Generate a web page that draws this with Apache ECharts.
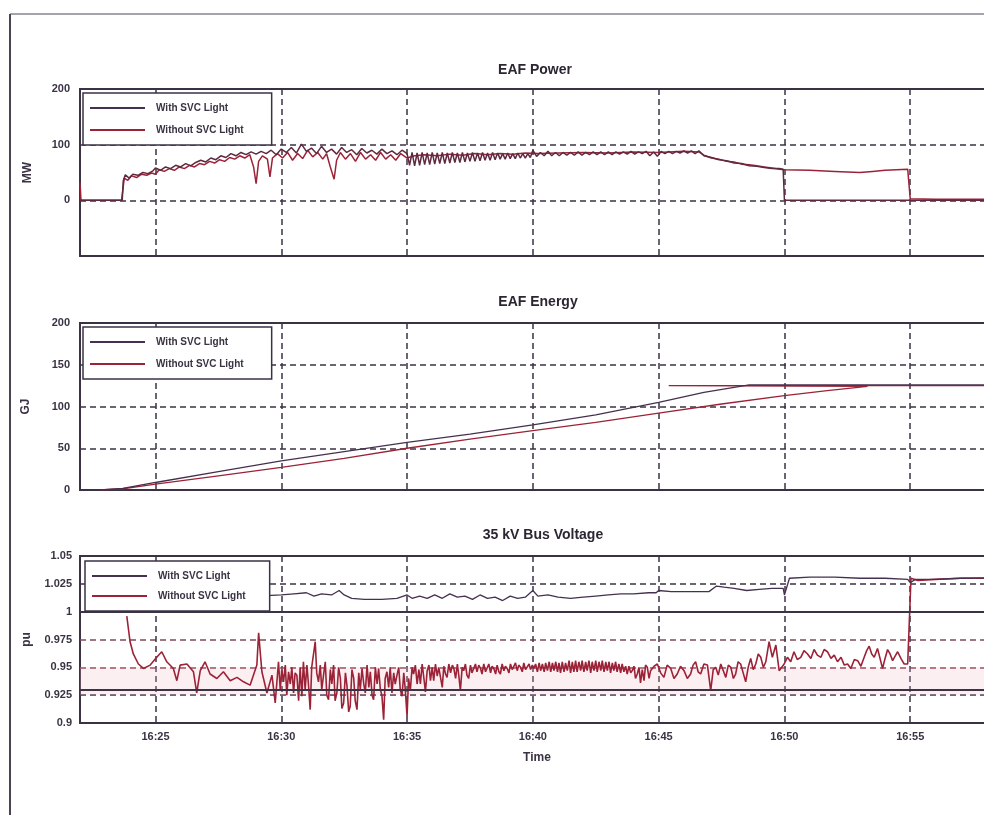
<!DOCTYPE html>
<html>
<head>
<meta charset="utf-8">
<script src="https://cdn.jsdelivr.net/npm/echarts/dist/echarts.min.js"></script>
<style>
  html, body { margin: 0; padding: 0; background: #fff; }
  #chart { width: 984px; height: 815px; }
</style>
</head>
<body>
<div id="chart"></div>
<script>
// Time axis is in minutes after 16:00.
const timeTicks = [25, 30, 35, 40, 45, 50, 55, 60];
const timeLabels = [25, 30, 35, 40, 45, 50, 55];

// EAF power, MW
const powerWith = [
  [22.0, 0], [23.68, 0], [23.72, 35], [23.8, 46], [23.95, 40], [24.1, 47], [24.3, 45], [24.5, 50], [24.7, 48], [24.9, 53],
  [25.0, 58], [25.2, 54], [25.4, 60], [25.6, 57], [25.8, 63], [26.0, 60], [26.2, 66], [26.4, 62], [26.6, 68], [26.8, 72],
  [27.0, 69], [27.2, 76], [27.4, 73], [27.6, 80], [27.8, 77], [28.0, 84], [28.2, 80], [28.4, 86], [28.6, 82], [28.8, 87],
  [29.0, 83], [29.2, 88], [29.4, 84], [29.6, 90], [29.8, 82], [30.0, 92], [30.2, 86], [30.4, 95], [30.6, 85], [30.8, 101],
  [31.0, 88], [31.2, 94], [31.4, 84], [31.6, 97], [31.8, 86], [32.0, 92], [32.2, 83], [32.4, 95], [32.6, 86], [32.8, 91],
  [33.0, 82], [33.2, 93], [33.4, 85], [33.6, 90], [33.8, 83], [34.0, 92], [34.2, 84], [34.4, 89], [34.6, 82], [34.8, 90],
  [35.0, 84], [35.1, 63], [35.2, 86], [35.3, 62], [35.4, 85], [35.5, 63], [35.6, 86], [35.7, 64], [35.8, 85], [35.9, 64],
  [36.0, 86], [36.1, 65], [36.2, 85], [36.3, 66], [36.4, 86], [36.5, 66], [36.6, 85], [36.7, 67], [36.8, 86], [36.9, 68],
  [37.0, 85], [37.1, 68], [37.2, 86], [37.3, 69], [37.4, 85], [37.5, 70], [37.6, 86], [37.7, 70], [37.8, 85], [37.9, 71],
  [38.0, 86], [38.1, 72], [38.2, 85], [38.3, 72], [38.4, 86], [38.5, 73], [38.6, 85], [38.7, 74], [38.8, 84], [38.9, 74],
  [39.0, 85], [39.1, 75], [39.2, 84], [39.3, 75], [39.4, 85], [39.5, 76], [39.6, 84], [39.7, 76], [39.8, 84], [39.9, 77],
  [40.0, 90], [40.15, 79], [40.3, 86], [40.45, 80], [40.6, 88], [40.75, 80], [40.9, 86], [41.05, 80], [41.2, 86], [41.35, 81],
  [41.5, 86], [41.65, 81], [41.8, 87], [41.95, 81], [42.1, 86], [42.25, 82], [42.4, 87], [42.55, 82], [42.7, 87], [42.85, 82],
  [43.0, 87], [43.15, 82], [43.3, 87], [43.45, 83], [43.6, 87], [43.75, 83], [43.9, 88], [44.05, 83], [44.2, 87], [44.35, 84],
  [44.5, 88], [44.65, 80], [44.8, 87], [44.95, 79], [45.1, 88], [45.25, 84], [45.4, 88], [45.55, 84], [45.7, 88], [45.85, 85],
  [46.0, 89], [46.15, 85], [46.3, 89], [46.45, 84], [46.6, 89], [46.8, 80], [47.1, 77], [47.4, 73], [47.7, 71], [48.0, 67],
  [48.3, 66], [48.6, 62], [48.9, 61], [49.2, 59], [49.5, 57], [49.8, 57], [49.95, 56], [50.0, 0], [60.0, 0]
];
const powerWithout = [
  [22.0, 32], [22.04, 0], [23.65, 0], [23.7, 18], [23.76, 40], [23.9, 36], [24.05, 44], [24.25, 41], [24.45, 47], [24.65, 45],
  [24.85, 49], [25.0, 47], [25.15, 55], [25.35, 52], [25.55, 57], [25.75, 54], [25.95, 60], [26.15, 57], [26.35, 63], [26.55, 60],
  [26.75, 66], [26.95, 64], [27.15, 70], [27.35, 67], [27.55, 73], [27.75, 70], [27.95, 77], [28.15, 74], [28.35, 80], [28.55, 76],
  [28.75, 82], [28.9, 60], [29.0, 30], [29.1, 70], [29.25, 80], [29.45, 74], [29.55, 42], [29.65, 76], [29.85, 84], [30.05, 76],
  [30.25, 86], [30.45, 72], [30.65, 84], [30.85, 75], [31.05, 90], [31.25, 78], [31.45, 86], [31.65, 74], [31.8, 84], [31.95, 60],
  [32.1, 38], [32.2, 72], [32.35, 86], [32.55, 74], [32.75, 84], [32.95, 70], [33.15, 86], [33.35, 74], [33.55, 82], [33.75, 72],
  [33.95, 86], [34.15, 74], [34.35, 82], [34.55, 72], [34.75, 84], [35.0, 76], [35.3, 80], [35.7, 82], [36.2, 80], [36.7, 83],
  [37.2, 81], [37.7, 84], [38.2, 82], [38.7, 84], [39.2, 83], [39.7, 85], [40.2, 84], [41.0, 85], [42.0, 86], [43.0, 85],
  [44.0, 87], [45.0, 86], [46.0, 88], [46.6, 87], [46.8, 81], [47.1, 76], [47.4, 74], [47.7, 70], [48.0, 69], [48.3, 65],
  [48.6, 64], [48.9, 62], [49.2, 60], [49.5, 58], [49.8, 56], [50.0, 55], [51.0, 54], [52.0, 52], [53.0, 50], [53.5, 52],
  [54.0, 54], [54.9, 56], [55.0, 3], [56.0, 2], [57.0, 2], [60.0, 2]
];

// EAF energy, GJ
const energyWith = [
  [22.8, 0], [23.7, 2], [25.0, 9], [27.5, 22], [30.0, 35], [32.5, 46], [35.0, 57], [37.5, 67], [40.0, 78], [42.5, 90],
  [45.0, 105], [46.8, 117], [48.6, 126], [60.0, 126]
];
const energyWithout = [
  [22.8, 0], [23.7, 1.5], [25.0, 7], [27.5, 17], [30.0, 27], [32.5, 38], [35.0, 50], [37.5, 61], [40.0, 71], [42.5, 81],
  [45.0, 92], [47.5, 103], [50.0, 113], [51.7, 119], [53.3, 124], [45.4, 125], [60.0, 125]
];

// 35 kV bus voltage, pu
const voltageWith = [
  [23.7, 1.015], [25.0, 1.014], [27.0, 1.015], [29.0, 1.014], [30.0, 1.015], [30.5, 1.016], [31.0, 1.017], [31.3, 1.014],
  [31.6, 1.016], [32.0, 1.015], [32.3, 1.019], [32.5, 1.015], [32.8, 1.012], [33.3, 1.011], [34.0, 1.011], [34.6, 1.012],
  [35.0, 1.015], [35.2, 1.012], [35.5, 1.014], [35.8, 1.012], [36.1, 1.015], [36.4, 1.012], [36.7, 1.016], [37.0, 1.013],
  [37.3, 1.014], [37.6, 1.011], [37.9, 1.015], [38.2, 1.012], [38.5, 1.013], [38.8, 1.010], [39.1, 1.014], [39.4, 1.012],
  [39.7, 1.013], [40.0, 1.019], [40.2, 1.014], [40.6, 1.015], [41.0, 1.013], [41.5, 1.012], [42.0, 1.013], [42.5, 1.014],
  [43.0, 1.015], [43.5, 1.016], [44.0, 1.016], [44.6, 1.017], [44.9, 1.017], [45.0, 1.019], [45.5, 1.018], [46.0, 1.018],
  [46.5, 1.018], [47.0, 1.018], [47.3, 1.023], [47.6, 1.022], [48.0, 1.021], [48.5, 1.019], [49.0, 1.020], [49.5, 1.021],
  [49.95, 1.021], [50.0, 1.015], [50.2, 1.030], [51.0, 1.031], [52.0, 1.031], [53.0, 1.030], [54.0, 1.030], [54.9, 1.029],
  [55.0, 1.026], [55.2, 1.029], [56.0, 1.029], [57.0, 1.030], [60.0, 1.031]
];
const voltageWithout = [
  [23.86, 0.996], [23.99, 0.973], [24.12, 0.962], [24.32, 0.953], [24.52, 0.949], [24.79, 0.952], [25.05, 0.959], [25.25, 0.964],
  [25.45, 0.955], [25.71, 0.949], [25.85, 0.938], [25.98, 0.952], [26.25, 0.953], [26.51, 0.946], [26.64, 0.927], [26.78, 0.947],
  [26.97, 0.955], [27.17, 0.944], [27.44, 0.940], [27.70, 0.946], [27.97, 0.938], [28.24, 0.941], [28.50, 0.937], [28.76, 0.934],
  [29.03, 0.952], [29.10, 0.981], [29.23, 0.946], [29.43, 0.927], [29.63, 0.943], [29.76, 0.918], [29.89, 0.955], [29.96, 0.930],
  [30.02, 0.948], [30.09, 0.937], [30.16, 0.952], [30.22, 0.925], [30.29, 0.946], [30.36, 0.935], [30.42, 0.950], [30.49, 0.927],
  [30.55, 0.945], [30.62, 0.943], [30.69, 0.920], [30.75, 0.950], [30.82, 0.924], [30.88, 0.955], [30.95, 0.930], [31.02, 0.952],
  [31.08, 0.935], [31.15, 0.912], [31.21, 0.950], [31.28, 0.949], [31.35, 0.973], [31.41, 0.945], [31.48, 0.937], [31.55, 0.952],
  [31.61, 0.930], [31.68, 0.943], [31.75, 0.955], [31.81, 0.925], [31.88, 0.921], [31.95, 0.948], [32.01, 0.935], [32.08, 0.952],
  [32.14, 0.920], [32.21, 0.927], [32.28, 0.950], [32.35, 0.940], [32.41, 0.913], [32.48, 0.918], [32.55, 0.945], [32.61, 0.934],
  [32.68, 0.910], [32.74, 0.915], [32.81, 0.948], [32.88, 0.940], [32.94, 0.920], [33.01, 0.912], [33.08, 0.945], [33.14, 0.930],
  [33.21, 0.949], [33.28, 0.935], [33.34, 0.927], [33.41, 0.952], [33.48, 0.932], [33.54, 0.946], [33.61, 0.925], [33.67, 0.921],
  [33.74, 0.950], [33.81, 0.935], [33.87, 0.949], [33.94, 0.930], [34.00, 0.925], [34.07, 0.903], [34.13, 0.940], [34.20, 0.946],
  [34.27, 0.932], [34.33, 0.950], [34.40, 0.927], [34.47, 0.945], [34.53, 0.935], [34.60, 0.943], [34.67, 0.950], [34.73, 0.930],
  [34.80, 0.924], [34.87, 0.945], [34.93, 0.930], [35.00, 0.906], [35.06, 0.940], [35.13, 0.929], [35.20, 0.950], [35.26, 0.944],
  [35.33, 0.952], [35.40, 0.935], [35.47, 0.948], [35.53, 0.935], [35.60, 0.953], [35.67, 0.940], [35.73, 0.928], [35.80, 0.947],
  [35.87, 0.952], [35.93, 0.938], [36.00, 0.950], [36.06, 0.938], [36.13, 0.953], [36.20, 0.942], [36.26, 0.950], [36.33, 0.949],
  [36.40, 0.932], [36.46, 0.951], [36.53, 0.944], [36.59, 0.941], [36.66, 0.953], [36.73, 0.945], [36.80, 0.952], [36.86, 0.949],
  [36.93, 0.940], [37.00, 0.953], [37.06, 0.942], [37.12, 0.929], [37.19, 0.950], [37.25, 0.947], [37.32, 0.953], [37.38, 0.943],
  [37.45, 0.940], [37.52, 0.952], [37.58, 0.945], [37.65, 0.944], [37.72, 0.953], [37.78, 0.946], [37.85, 0.952], [37.92, 0.949],
  [37.98, 0.944], [38.05, 0.953], [38.12, 0.946], [38.18, 0.946], [38.25, 0.953], [38.32, 0.945], [38.38, 0.951], [38.45, 0.949],
  [38.52, 0.944], [38.58, 0.952], [38.65, 0.946], [38.71, 0.944], [38.78, 0.953], [38.85, 0.947], [38.91, 0.951], [38.98, 0.949],
  [39.05, 0.945], [39.11, 0.953], [39.18, 0.948], [39.24, 0.947], [39.31, 0.954], [39.38, 0.947], [39.44, 0.952], [39.51, 0.950],
  [39.58, 0.946], [39.64, 0.954], [39.71, 0.948], [39.78, 0.947], [39.85, 0.953], [39.91, 0.948], [39.98, 0.952], [40.04, 0.949],
  [40.11, 0.953], [40.18, 0.946], [40.25, 0.954], [40.31, 0.947], [40.38, 0.953], [40.45, 0.946], [40.51, 0.954], [40.58, 0.947],
  [40.65, 0.955], [40.71, 0.946], [40.78, 0.954], [40.84, 0.947], [40.91, 0.955], [40.98, 0.946], [41.04, 0.954], [41.10, 0.945],
  [41.17, 0.955], [41.24, 0.946], [41.30, 0.954], [41.37, 0.947], [41.44, 0.956], [41.50, 0.945], [41.57, 0.955], [41.63, 0.946],
  [41.70, 0.956], [41.76, 0.946], [41.83, 0.955], [41.90, 0.947], [41.96, 0.956], [42.03, 0.946], [42.10, 0.955], [42.16, 0.947],
  [42.23, 0.956], [42.30, 0.945], [42.36, 0.955], [42.43, 0.947], [42.50, 0.956], [42.56, 0.946], [42.63, 0.955], [42.70, 0.947],
  [42.76, 0.956], [42.83, 0.946], [42.90, 0.955], [42.96, 0.947], [43.03, 0.955], [43.09, 0.945], [43.16, 0.954], [43.22, 0.947],
  [43.29, 0.955], [43.35, 0.946], [43.42, 0.953], [43.49, 0.945], [43.55, 0.953], [43.62, 0.946], [43.69, 0.951], [43.75, 0.944],
  [43.82, 0.951], [43.89, 0.945], [43.95, 0.947], [44.02, 0.951], [44.08, 0.940], [44.15, 0.944], [44.22, 0.950], [44.28, 0.936],
  [44.35, 0.948], [44.42, 0.938], [44.48, 0.952], [44.55, 0.950], [44.62, 0.940], [44.68, 0.947], [44.82, 0.951], [44.95, 0.953],
  [45.08, 0.945], [45.21, 0.941], [45.34, 0.952], [45.48, 0.949], [45.61, 0.940], [45.74, 0.944], [45.87, 0.951], [46.01, 0.947],
  [46.14, 0.940], [46.27, 0.944], [46.37, 0.952], [46.47, 0.955], [46.57, 0.946], [46.67, 0.944], [46.80, 0.953], [46.94, 0.952],
  [47.07, 0.929], [47.17, 0.948], [47.27, 0.950], [47.37, 0.943], [47.47, 0.953], [47.57, 0.947], [47.67, 0.941], [47.77, 0.952],
  [47.87, 0.950], [47.97, 0.940], [48.06, 0.944], [48.16, 0.955], [48.26, 0.953], [48.36, 0.945], [48.46, 0.937], [48.56, 0.950],
  [48.66, 0.958], [48.76, 0.948], [48.86, 0.953], [48.96, 0.962], [49.06, 0.959], [49.16, 0.950], [49.26, 0.955], [49.39, 0.973],
  [49.52, 0.959], [49.66, 0.970], [49.79, 0.947], [49.99, 0.953], [50.12, 0.959], [50.25, 0.955], [50.38, 0.964], [50.51, 0.957],
  [50.65, 0.959], [50.78, 0.965], [50.92, 0.962], [51.05, 0.958], [51.18, 0.966], [51.31, 0.961], [51.45, 0.959], [51.58, 0.966],
  [51.71, 0.964], [51.85, 0.958], [51.98, 0.961], [52.11, 0.955], [52.25, 0.959], [52.38, 0.952], [52.51, 0.953], [52.64, 0.949],
  [52.78, 0.957], [52.91, 0.956], [53.04, 0.951], [53.17, 0.959], [53.27, 0.965], [53.37, 0.969], [53.47, 0.962], [53.57, 0.959],
  [53.70, 0.967], [53.80, 0.958], [53.90, 0.949], [54.00, 0.958], [54.10, 0.966], [54.20, 0.962], [54.30, 0.956], [54.40, 0.960],
  [54.50, 0.964], [54.63, 0.958], [54.76, 0.953], [54.90, 0.953], [55.03, 1.030], [55.3, 1.028], [56.0, 1.029], [57.0, 1.030],
  [60.0, 1.030]
];

const INK = '#3b3244';
const WITH_COLOR = '#45304f';
const WITHOUT_COLOR = '#9c2337';
const FONT = 'Liberation Sans, Arial, sans-serif';
const DASH = [6, 4];

const gridTops = [89, 323, 556];
const gridHeight = 167;

function xAxisFor(idx, showLabels) {
  return {
    type: 'value', gridIndex: idx, min: 22, max: 60,
    axisLine: { show: false },
    axisTick: { show: false, customValues: timeTicks },
    axisLabel: {
      show: showLabels, customValues: timeLabels, margin: 8,
      color: INK, fontSize: 11, fontWeight: 'bold', fontFamily: FONT,
      formatter: v => '16:' + v
    },
    splitLine: { show: true, lineStyle: { color: INK, width: 1.5, type: DASH } }
  };
}

function legendFor(top, left, gap, padRight) {
  return {
    top: top, left: left, orient: 'vertical',
    backgroundColor: '#fff', borderColor: INK, borderWidth: 1.5, borderRadius: 0,
    padding: [8, padRight, 8, 7], itemWidth: 55, itemHeight: 2, itemGap: gap,
    icon: 'rect',
    textStyle: { color: INK, fontSize: 10, fontWeight: 'bold', fontFamily: FONT, padding: [0, 0, 0, 6],
      lineHeight: 14 },
    data: ['With SVC Light', 'Without SVC Light'],
    z: 10
  };
}

const yName = (name, gap) => ({
  name: name, nameLocation: 'middle', nameGap: gap,
  nameTextStyle: { color: INK, fontSize: 12, fontWeight: 'bold', fontFamily: FONT }
});

const yLabelStyle = { color: INK, fontSize: 11, fontWeight: 'bold', fontFamily: FONT };

const option = {
  animation: false,
  backgroundColor: '#fff',
  title: [
    { text: 'EAF Power', left: 530, top: 58, textAlign: 'center',
      textStyle: { color: '#2c2633', fontSize: 14, fontWeight: 'bold', fontFamily: FONT } },
    { text: 'EAF Energy', left: 533, top: 290, textAlign: 'center',
      textStyle: { color: '#2c2633', fontSize: 14, fontWeight: 'bold', fontFamily: FONT } },
    { text: '35 kV Bus Voltage', left: 538, top: 523, textAlign: 'center',
      textStyle: { color: '#2c2633', fontSize: 14, fontWeight: 'bold', fontFamily: FONT } }
  ],
  legend: [
    legendFor(93, 83, 8, 28),
    legendFor(327, 83, 8, 28),
    legendFor(561, 85, 6, 24)
  ],
  // plot areas run past the right edge of the page
  grid: gridTops.map(t => ({
    left: 80, width: 956, top: t, height: gridHeight,
    outerBoundsMode: 'none', containLabel: false,
    show: true, borderColor: INK, borderWidth: 2, backgroundColor: 'transparent'
  })),
  xAxis: [xAxisFor(0, false), xAxisFor(1, false), xAxisFor(2, true)],
  yAxis: [
    Object.assign({
      type: 'value', gridIndex: 0, min: -100, max: 200, interval: 100,
      axisLine: { show: false }, axisTick: { show: false },
      axisLabel: Object.assign({ margin: 10, formatter: v => (v < 0 ? '' : String(v)) }, yLabelStyle),
      splitLine: { lineStyle: { color: INK, width: 1.5, type: DASH } }
    }, yName('MW', 46)),
    Object.assign({
      type: 'value', gridIndex: 1, min: 0, max: 200, interval: 50,
      axisLine: { show: false }, axisTick: { show: false },
      axisLabel: Object.assign({ margin: 10 }, yLabelStyle),
      splitLine: { lineStyle: { color: INK, width: 1.5, type: DASH } }
    }, yName('GJ', 48)),
    Object.assign({
      type: 'value', gridIndex: 2, min: 0.9, max: 1.05, interval: 0.025,
      axisLine: { show: false }, axisTick: { show: false },
      axisLabel: Object.assign({ margin: 8 }, yLabelStyle),
      splitLine: { lineStyle: {
        color: [INK, INK, '#8e3a4c', '#7d4a58', INK, INK, INK],
        width: 1.5, type: DASH } }
    }, yName('pu', 47))
  ],
  series: [
    { name: 'Without SVC Light', type: 'line', xAxisIndex: 0, yAxisIndex: 0, data: powerWithout,
      symbol: 'none', lineStyle: { color: WITHOUT_COLOR, width: 1.5 }, itemStyle: { color: WITHOUT_COLOR } },
    { name: 'With SVC Light', type: 'line', xAxisIndex: 0, yAxisIndex: 0, data: powerWith,
      symbol: 'none', lineStyle: { color: '#5e2a40', width: 1.5 }, itemStyle: { color: WITH_COLOR } },
    { name: 'Without SVC Light', type: 'line', xAxisIndex: 1, yAxisIndex: 1, data: energyWithout,
      symbol: 'none', lineStyle: { color: WITHOUT_COLOR, width: 1.3 }, itemStyle: { color: WITHOUT_COLOR } },
    { name: 'With SVC Light', type: 'line', xAxisIndex: 1, yAxisIndex: 1, data: energyWith,
      symbol: 'none', lineStyle: { color: WITH_COLOR, width: 1.3 }, itemStyle: { color: WITH_COLOR } },
    { name: 'Without SVC Light', type: 'line', xAxisIndex: 2, yAxisIndex: 2, data: voltageWithout,
      symbol: 'none', lineStyle: { color: WITHOUT_COLOR, width: 1.6 }, itemStyle: { color: WITHOUT_COLOR },
      markArea: { silent: true, itemStyle: { color: 'rgba(240,180,195,0.22)' },
        data: [[{ yAxis: 0.925 }, { yAxis: 0.95 }]] } },
    { name: 'With SVC Light', type: 'line', xAxisIndex: 2, yAxisIndex: 2, data: voltageWith,
      symbol: 'none', lineStyle: { color: WITH_COLOR, width: 1.3 }, itemStyle: { color: WITH_COLOR },
      markLine: { silent: true, symbol: 'none', label: { show: false },
        lineStyle: { color: INK, width: 2, type: 'solid' },
        data: [{ yAxis: 1.0 }, { yAxis: 0.925 }] } }
  ],
  graphic: [
    { type: 'line', shape: { x1: 10, y1: 14, x2: 984, y2: 14 }, style: { stroke: '#8a8490', lineWidth: 1.5 } },
    { type: 'line', shape: { x1: 10, y1: 14, x2: 10, y2: 815 }, style: { stroke: '#4a4450', lineWidth: 2 } },
    { type: 'text', x: 537, y: 758, style: { text: 'Time', fill: INK, font: 'bold 12px ' + FONT,
      textAlign: 'center', textVerticalAlign: 'middle' } }
  ]
};

const chart = echarts.init(document.getElementById('chart'), null, { renderer: 'canvas' });
chart.setOption(option);
</script>
</body>
</html>
